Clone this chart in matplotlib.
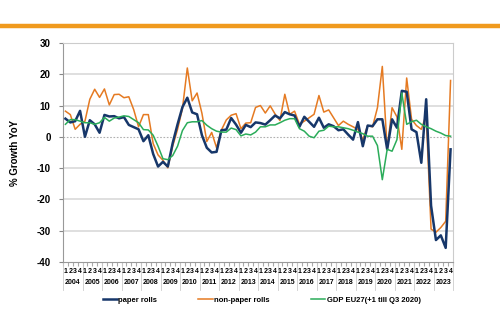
import numpy as np
import matplotlib.pyplot as plt
from matplotlib.lines import Line2D

plt.rcParams['font.family'] = ['Liberation Sans', 'DejaVu Sans']

# quarterly YoY growth, 2004Q1 .. 2023Q4
years = [str(y) for y in range(2004, 2024)]
quarters = ['1', '2', '3', '4']

paper_rolls = [
    5.8, 4.6, 5.0, 8.3,
    0.0, 5.3, 4.0, 1.3,
    7.0, 6.5, 6.6, 5.9,
    6.3, 3.8, 3.1, 2.4,
    -1.4, 0.5, -5.5, -9.5,
    -8.0, -9.5, -2.0, 4.0,
    9.5, 12.5, 7.8, 7.2,
    0.5, -3.5, -5.0, -4.8,
    2.1, 2.3, 6.0, 3.9,
    1.3, 3.8, 3.1, 4.6,
    4.4, 3.9, 5.3, 6.8,
    5.9, 7.9, 7.2, 6.8,
    3.2, 6.4, 4.8, 3.2,
    6.1, 2.9, 4.0, 3.4,
    2.1, 2.4, 0.7, -0.9,
    4.7, -3.0, 3.6, 3.4,
    5.6, 5.6, -4.0, 5.6,
    2.9, 14.7, 14.4, 2.4,
    1.5, -8.3, 12.0, -22.0,
    -33.0, -31.5, -35.5, -4.0,
]

non_paper_rolls = [
    8.2, 7.1, 2.4, 4.0,
    5.0, 12.0, 15.2, 12.6,
    15.3, 10.2, 13.5, 13.6,
    12.5, 12.8, 8.7, 3.2,
    7.1, 7.1, -2.2, -5.8,
    -7.5, -9.9, -3.0, 2.4,
    9.0, 22.0, 11.5, 14.0,
    7.5, -1.5, 1.4, -3.5,
    2.2, 5.4, 6.9, 7.4,
    2.6, 4.4, 4.5, 9.4,
    10.0, 7.6, 9.9, 7.3,
    5.2, 13.6, 7.2, 8.2,
    4.0, 5.0, 6.1, 7.2,
    13.2, 7.9, 8.6, 6.1,
    3.6, 5.0, 4.0, 3.2,
    2.4, -0.9, 3.6, 3.2,
    9.3, 22.5, -4.0, 9.3,
    6.4, -4.0, 18.8, 5.6,
    3.6, 2.4, 7.0, -29.5,
    -30.5, -29.0, -27.0, 18.0,
]

gdp_eu27 = [
    4.0, 5.5, 5.5, 5.0,
    4.5, 4.5, 4.0, 4.5,
    6.2, 5.0, 6.0, 6.3,
    6.7, 6.5, 5.5, 4.5,
    2.3, 2.2, 0.5, -3.0,
    -7.0, -7.3, -6.0, -3.0,
    2.0, 4.5, 4.8, 4.8,
    5.2, 3.7, 2.6, 1.8,
    1.5, 1.5, 2.8, 2.3,
    0.3, 0.9, 0.6, 1.5,
    3.2, 3.2, 3.8, 3.8,
    4.5, 5.3, 5.8, 5.8,
    2.6, 1.8, 0.2, -0.3,
    1.8, 2.1, 3.4, 3.2,
    3.2, 2.9, 2.6, 2.1,
    1.5, 1.0, 0.2, 0.2,
    -2.8, -13.7, -4.0, -4.6,
    -0.9, 14.0, 4.0, 4.8,
    5.3, 4.0, 3.2, 2.6,
    1.8, 1.2, 0.4, 0.2,
]

navy = '#17376a'
orange = '#e57a22'
green = '#2bac5a'

fig = plt.figure(figsize=(5, 3.23), dpi=100)
fig.patch.set_facecolor('white')

# orange banner line at the top
fig.add_artist(Line2D([0, 1], [0.918, 0.918], transform=fig.transFigure, color='#f09a1e', lw=3.2))

ax = fig.add_axes([0.126, 0.189, 0.78, 0.678])
x = np.arange(len(paper_rolls))

ax.plot(x, paper_rolls, color=navy, lw=1.8, label='paper rolls', zorder=4)
ax.plot(x, non_paper_rolls, color=orange, lw=1.1, label='non-paper rolls', zorder=3)
ax.plot(x, gdp_eu27, color=green, lw=1.1, label='GDP EU27(+1 till Q3 2020)', zorder=5)

ax.set_xlim(-0.5, len(x) - 0.5)
ax.set_ylim(-40, 30)
ax.set_yticks(range(-40, 31, 10))
ax.set_yticklabels([str(v) for v in range(-40, 31, 10)], fontsize=7, fontweight='bold')
for v in range(-40, 31, 10):
    if v == 0:
        ax.axhline(v, color='#b0b0b0', lw=0.8, ls=(0, (1.5, 1.5)), zorder=1)
    elif v not in (-40, 30):
        ax.axhline(v, color='#d9d9d9', lw=1.2, zorder=1)

ax.set_ylabel('% Growth YoY', fontsize=7, fontweight='bold', labelpad=12)
ax.tick_params(axis='y', length=3, color='#888888', pad=6)

ax.spines['left'].set_color('#999999')
ax.spines['bottom'].set_color('#999999')
ax.spines['top'].set_color('#cccccc')
ax.spines['right'].set_color('#cccccc')

# quarter ticks and two-level category labels
ax.set_xticks(np.arange(-0.5, len(x), 1.0))
ax.set_xticklabels([])
ax.tick_params(axis='x', length=3, color='#aaaaaa')
trans = ax.get_xaxis_transform()
for i in range(len(x)):
    ax.text(i, -0.042, quarters[i % 4], transform=trans, ha='center', va='center',
            fontsize=5, fontweight='bold')
for k, yr in enumerate(years):
    ax.text(4 * k + 1.5, -0.093, yr, transform=trans, ha='center', va='center',
            fontsize=5, fontweight='bold')
    ax.plot([4 * k - 0.5, 4 * k - 0.5], [0, -0.13], transform=trans, color='#cccccc',
            lw=0.6, clip_on=False)
ax.plot([len(x) - 0.5, len(x) - 0.5], [0, -0.13], transform=trans, color='#cccccc',
        lw=0.6, clip_on=False)

fig.legend(loc='center left', bbox_to_anchor=(0.205, 0.071), ncol=3, frameon=False,
           prop={'size': 5.5, 'weight': 'bold'}, handlelength=1.9, handletextpad=0.15,
           columnspacing=5.4, borderpad=0, borderaxespad=0)

fig.savefig('out.png', dpi=100)
